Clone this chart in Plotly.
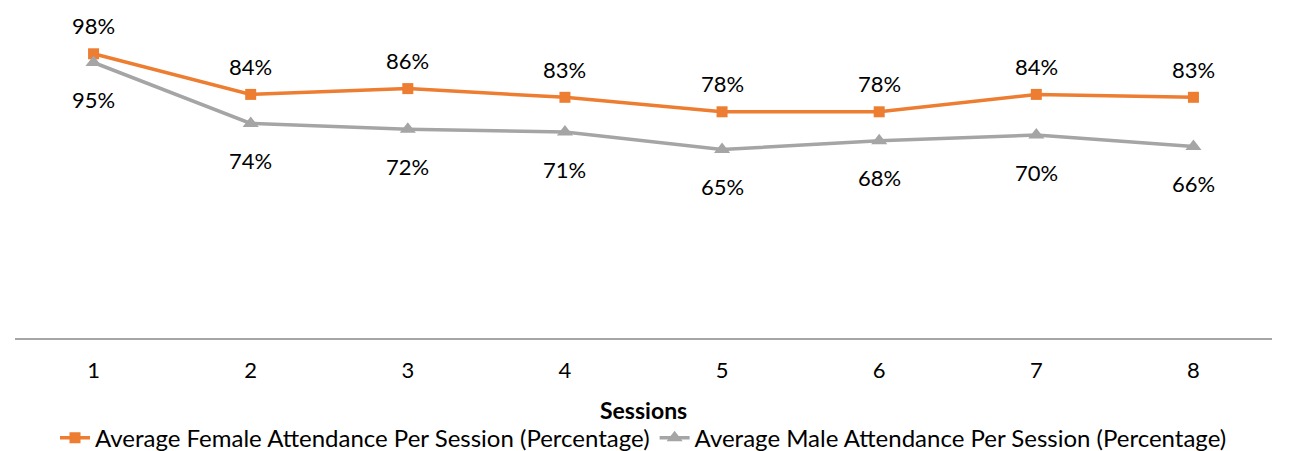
import plotly.graph_objects as go

sessions = ["1", "2", "3", "4", "5", "6", "7", "8"]
female = [0.98, 0.84, 0.86, 0.83, 0.78, 0.78, 0.84, 0.83]
male = [0.95, 0.74, 0.72, 0.71, 0.65, 0.68, 0.70, 0.66]
female_name = "Average Female Attendance Per Session (Percentage)"
male_name = "Average Male Attendance Per Session (Percentage)"

FONT = "Lato"
ORANGE = "#ED7D31"
GRAY = "#A5A5A5"

fig = go.Figure()
fig.add_trace(go.Scatter(x=sessions, y=female, name=female_name, mode="lines+markers",
                         line=dict(color=ORANGE, width=3.5),
                         marker=dict(symbol="square", size=11, color=ORANGE)))
fig.add_trace(go.Scatter(x=sessions, y=male, name=male_name, mode="lines+markers",
                         line=dict(color=GRAY, width=3.5),
                         marker=dict(symbol="triangle-up", size=14, color=GRAY)))

annotations = []
for i, v in enumerate(female):
    annotations.append(dict(x=i, y=v, xref="x", yref="y", text=f"{round(v*100)}%",
                            showarrow=False, yshift=28, font=dict(size=22, color="#000")))
for i, v in enumerate(male):
    annotations.append(dict(x=i, y=v, xref="x", yref="y", text=f"{round(v*100)}%",
                            showarrow=False, yshift=-37, font=dict(size=22, color="#000")))
annotations.append(dict(x=0.5, y=-0.248, xref="paper", yref="paper", text="<b>Sessions</b>",
                        showarrow=False, font=dict(size=23, color="#000"), yanchor="middle"))

# page body has an 8px default margin, so the figure is sized to fit the 1292x451 window
fig.update_layout(
    width=1284, height=443,
    margin=dict(l=7, r=20, t=40, b=113, autoexpand=False),
    paper_bgcolor="white", plot_bgcolor="white",
    font=dict(family=FONT, size=22, color="#000"),
    showlegend=True,
    legend=dict(orientation="h", x=0.5, xanchor="center", y=-0.345, yanchor="middle",
                font=dict(size=24), tracegroupgap=0),
    annotations=annotations,
    xaxis=dict(type="category", range=[-0.5, 7.5], showgrid=False, showline=True,
               linecolor="#A6A6A6", linewidth=1.5,
               ticks="outside", ticklen=12, tickcolor="rgba(0,0,0,0)",
               tickfont=dict(size=22, color="#000"), zeroline=False),
    yaxis=dict(range=[0, 1], visible=False, showgrid=False, zeroline=False),
)

fig.write_html("out.html")
